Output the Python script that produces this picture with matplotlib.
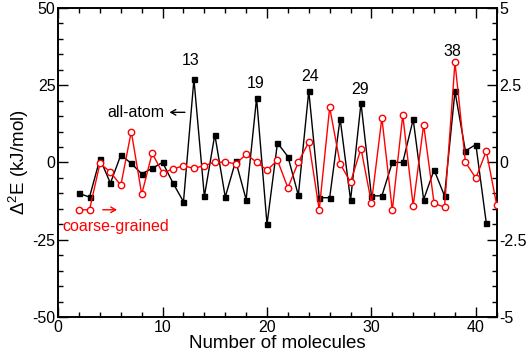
import matplotlib
matplotlib.use("Agg")
import matplotlib.pyplot as plt
from matplotlib.ticker import MultipleLocator

plt.rcParams['font.family'] = ['Liberation Sans', 'DejaVu Sans']
plt.rcParams['mathtext.fontset'] = 'custom'
plt.rcParams['mathtext.rm'] = 'Liberation Sans'
plt.rcParams['mathtext.it'] = 'Liberation Sans:italic'
plt.rcParams['mathtext.bf'] = 'Liberation Sans:bold'

# all-atom (left axis, kJ/mol)
aa_n = list(range(2, 42))
aa_val = [-10.0, -11.2, 1.2, -6.7, 2.4, -0.3, -3.7, -1.9, 0.0, -6.7,
          -12.7, 26.9, -11.0, 9.0, -11.2, 0.5, -12.0, 20.8, -20.0, 6.3,
          1.9, -10.6, 23.1, -11.4, -11.4, 14.2, -12.2, 19.2, -10.8, -10.8,
          0.0, 0.0, 13.9, -12.0, -2.4, -10.8, 23.0, 3.7, 5.8, -19.6]

# coarse-grained (right axis, kJ/mol)
cg_n = list(range(2, 43))
cg_val = [-1.53, -1.53, -0.03, -0.31, -0.74, 1.00, -1.03, 0.30, -0.34, -0.21,
          -0.11, -0.19, -0.10, 0.01, 0.01, -0.04, 0.26, 0.01, -0.25, 0.07,
          -0.82, 0.01, 0.66, -1.53, 1.78, -0.04, -0.64, 0.45, -1.31, 1.44,
          -1.55, 1.53, -1.40, 1.22, -1.32, -1.45, 3.24, 0.01, -0.51, 0.37,
          -1.38]

peak_labels = ["13", "19", "24", "29", "38"]
peak_pos = [(12.7, 32.8), (18.9, 25.4), (24.1, 27.7), (28.9, 23.6), (37.8, 36.0)]

fig = plt.figure(figsize=(5.29, 3.52), dpi=100)
ax = fig.add_axes([0.110, 0.099, 0.829, 0.879])
ax2 = ax.twinx()

ax.plot(aa_n, aa_val, color='black', lw=1.0, marker='s', ms=3.6,
        mfc='black', mec='black', zorder=3)
ax2.plot(cg_n, cg_val, color='#ff0000', lw=1.0, marker='o', ms=4.6,
         mfc='white', mec='#ff0000', mew=1.0, zorder=3)

ax.set_xlim(0, 42)
ax.set_ylim(-50, 50)
ax2.set_ylim(-5, 5)

ax.xaxis.set_major_locator(MultipleLocator(10))
ax.xaxis.set_minor_locator(MultipleLocator(2))
ax.yaxis.set_major_locator(MultipleLocator(25))
ax.yaxis.set_minor_locator(MultipleLocator(5))
ax2.yaxis.set_major_locator(MultipleLocator(2.5))
ax2.yaxis.set_minor_locator(MultipleLocator(0.5))
ax2.set_yticks([-5, -2.5, 0, 2.5, 5])
ax2.set_yticklabels(["-5", "-2.5", "0", "2.5", "5"])
ax.set_yticks([-50, -25, 0, 25, 50])
ax.set_yticklabels(["-50", "-25", "0", "25", "50"])

ax.tick_params(axis='x', which='both', direction='in', top=True, bottom=True, labelsize=11.5, pad=2)
ax.tick_params(axis='y', which='both', direction='in', left=True, right=False, labelsize=11.5, pad=2)
ax.tick_params(which='major', length=7, width=1.0)
ax.tick_params(which='minor', length=3.5, width=1.0)
ax2.tick_params(axis='y', which='both', direction='in', labelsize=11.5, pad=2)
ax2.tick_params(which='major', length=7, width=1.0)
ax2.tick_params(which='minor', length=3.5, width=1.0)

for a in (ax, ax2):
    for s in a.spines.values():
        s.set_linewidth(1.2)

ax.set_xlabel("Number of molecules", fontsize=13.5, labelpad=0)
ax.set_ylabel(r"$\Delta^{2}$E (kJ/mol)", fontsize=13.5, labelpad=1)

for lab, (x, y) in zip(peak_labels, peak_pos):
    ax.text(x, y, lab, fontsize=11.5, ha='center', va='center')

ax.text(4.7, 16.2, "all-atom", fontsize=11.5, ha='left', va='center', color='black')
ax.annotate("", xy=(10.4, 16.2), xytext=(12.4, 16.2),
            arrowprops=dict(arrowstyle='->,head_length=0.35,head_width=0.2', color='black', lw=1.0))
ax.annotate("", xy=(5.9, -15.3), xytext=(4.0, -15.3),
            arrowprops=dict(arrowstyle='->,head_length=0.35,head_width=0.2', color='#ff0000', lw=1.0))
ax.text(0.4, -20.8, "coarse-grained", fontsize=11.5, ha='left', va='center', color='#ff0000')

fig.savefig("out.png", dpi=100)
